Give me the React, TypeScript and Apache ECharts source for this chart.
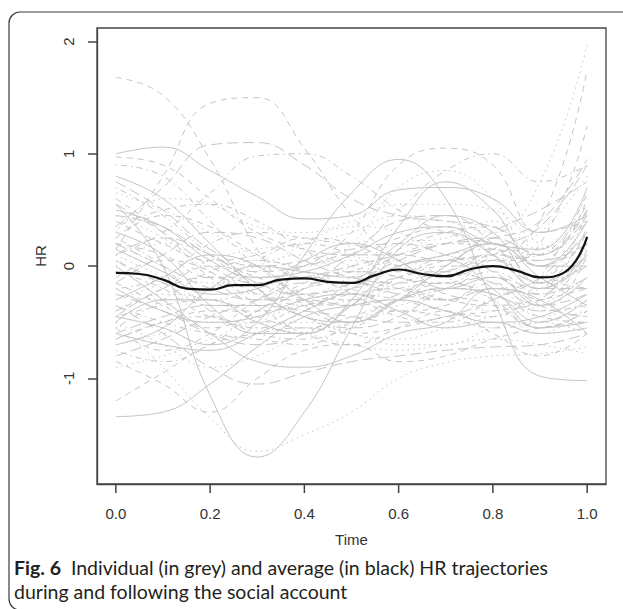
import React, { useEffect, useRef } from "react";
import * as echarts from "echarts";

// Time grid for the individual trajectories
const timeGrid = [0, 0.1, 0.2, 0.3, 0.4, 0.5, 0.6, 0.7, 0.8, 0.9, 1.0];
// Time grid for the average trajectory
const meanTime = [0, 0.05, 0.1, 0.15, 0.2, 0.25, 0.3, 0.35, 0.4, 0.45, 0.5, 0.55, 0.6, 0.65, 0.7, 0.75, 0.8, 0.85, 0.9, 0.95, 1.0];
const meanHR = [-0.06, -0.07, -0.12, -0.2, -0.21, -0.17, -0.17, -0.12, -0.11, -0.14, -0.15, -0.08, -0.03, -0.07, -0.09, -0.03, 0.0, -0.04, -0.1, -0.06, 0.26];

const xTicks = [0, 0.2, 0.4, 0.6, 0.8, 1.0];
const yTicks = [-1, 0, 1, 2];
const X_MIN = -0.04;
const X_MAX = 1.04;
const Y_MIN = -1.94;
const Y_MAX = 2.12;

const solidHR = [
  [1.0, 1.06, 0.85, 0.62, 0.42, 0.45, 0.68, 0.7, 0.6, 0.3, 0.45],
  [0.55, 0.0, -1.15, -1.7, -1.3, -0.55, 0.15, 0.3, 0.1, -0.2, 0.1],
  [-1.34, -1.3, -1.05, -0.72, -0.45, -0.35, -0.3, -0.4, -0.5, -0.45, -0.25],
  [-0.45, -0.55, -0.7, -0.5, 0.1, 0.65, 0.95, 0.6, -0.3, -0.98, -1.02],
  [0.8, 0.6, 0.2, -0.2, -0.45, -0.5, -0.3, -0.2, -0.25, -0.5, -0.3],
  [-0.6, -0.7, -0.75, -0.6, -0.4, -0.2, 0.0, 0.1, 0.2, 0.0, 0.4],
  [0.3, 0.1, -0.35, -0.6, -0.6, -0.3, 0.35, 0.75, 0.5, 0.0, 0.0],
  [-0.2, -0.4, -0.5, -0.45, -0.3, -0.25, -0.4, -0.55, -0.5, -0.6, -0.55],
  [0.5, 0.35, 0.05, -0.1, -0.05, 0.1, 0.3, 0.35, 0.2, 0.15, 0.7],
  [-0.7, -0.55, -0.2, 0.0, -0.05, -0.1, 0.2, 0.45, 0.3, -0.15, 0.1],
  [0.0, -0.3, -0.6, -0.85, -0.9, -0.8, -0.6, -0.5, -0.2, -0.3, -0.6],
  [-0.3, -0.1, 0.1, 0.0, -0.3, -0.5, -0.3, 0.0, 0.2, -0.1, -0.35],
  [0.15, -0.05, -0.25, -0.2, 0.05, 0.2, 0.05, -0.2, -0.1, -0.35, -0.1],
  [-0.5, -0.3, -0.3, -0.5, -0.6, -0.35, 0.0, 0.05, -0.2, -0.55, -0.5],
];

const dashedHR = [
  [1.68, 1.52, 0.95, 0.15, -0.35, -0.5, -0.3, -0.15, -0.25, -0.4, 0.1],
  [0.15, 0.8, 1.45, 1.5, 1.05, 0.45, 0.05, -0.1, 0.0, -0.15, 0.35],
  [0.97, 0.9, 0.6, 0.3, 0.15, 0.1, 0.25, 0.35, 0.1, -0.1, 0.3],
  [-1.2, -0.95, -0.7, -0.6, -0.55, -0.6, -0.55, -0.45, -0.4, -0.3, 0.2],
  [-0.85, -1.05, -1.3, -1.0, -0.75, -0.7, -0.85, -0.8, -0.65, -0.55, -0.5],
  [0.2, 0.1, -0.1, -0.1, 0.0, 0.3, 0.9, 1.05, 0.9, 0.3, 0.4],
  [-0.4, -0.2, 0.0, -0.1, -0.3, -0.35, -0.1, 0.05, 0.1, 0.4, 1.75],
  [0.6, 0.3, -0.1, -0.3, -0.25, -0.2, -0.1, 0.0, 0.0, 0.2, 1.25],
  [-0.65, -0.5, -0.4, -0.4, -0.35, -0.25, -0.2, -0.3, -0.35, -0.3, -0.2],
  [0.4, 0.2, 0.05, 0.1, 0.25, 0.2, 0.0, -0.1, 0.05, 0.05, 0.6],
  [-0.1, 0.05, -0.05, -0.35, -0.6, -0.7, -0.55, -0.4, -0.6, -0.8, -0.6],
  [-0.55, -0.75, -0.6, -0.3, -0.1, -0.2, -0.4, -0.35, -0.1, -0.3, 0.15],
  [0.25, 0.45, 0.35, 0.1, -0.1, -0.05, 0.15, 0.3, 0.35, 0.0, 0.2],
  [-0.15, -0.35, -0.55, -0.4, -0.15, -0.05, -0.1, -0.25, -0.35, -0.55, -0.4],
];

const dottedHR = [
  [-0.5, -0.9, -1.35, -1.65, -1.5, -1.3, -1.0, -0.86, -0.8, -0.78, -0.72],
  [-0.3, -0.15, 0.05, 0.15, 0.2, 0.3, 0.45, 0.4, 0.3, 0.75, 1.97],
  [0.3, 0.6, 0.55, 0.35, 0.3, 0.4, 0.55, 0.55, 0.5, 0.2, 0.1],
  [-0.7, -0.6, -0.5, -0.55, -0.6, -0.7, -0.75, -0.7, -0.65, -0.7, -0.78],
  [0.1, -0.1, -0.3, -0.2, 0.0, 0.05, 0.0, -0.1, 0.1, 0.3, 0.8],
  [-0.25, -0.3, -0.2, 0.0, 0.1, 0.0, -0.2, -0.3, -0.2, -0.45, -0.3],
  [0.65, 0.5, 0.3, 0.1, 0.0, 0.2, 0.7, 0.85, 0.6, 0.0, 0.3],
  [-0.5, -0.7, -0.9, -0.8, -0.6, -0.5, -0.35, -0.3, -0.4, -0.2, 0.0],
  [0.0, 0.2, 0.1, -0.2, -0.45, -0.6, -0.65, -0.55, -0.45, -0.35, -0.1],
  [-0.9, -0.8, -0.65, -0.5, -0.5, -0.6, -0.7, -0.7, -0.55, -0.5, -0.6],
  [0.45, 0.25, -0.05, -0.25, -0.2, 0.0, 0.2, 0.25, 0.4, 0.15, 0.5],
  [-0.4, -0.25, -0.3, -0.45, -0.3, -0.1, 0.05, -0.1, -0.3, -0.6, -0.35],
  [0.2, 0.0, -0.15, -0.05, 0.2, 0.35, 0.3, 0.1, 0.05, 0.15, 0.45],
];

const dotDashHR = [
  [0.1, 0.3, 0.65, 0.98, 1.0, 0.8, 0.5, 0.3, 0.2, 0.1, 0.4],
  [-0.2, -0.1, 0.2, 0.3, 0.25, 0.2, 0.5, 0.85, 1.0, 0.75, 0.9],
  [0.7, 0.45, 0.1, -0.2, -0.35, -0.3, -0.15, -0.05, 0.05, -0.15, 0.0],
  [-0.45, -0.35, -0.3, -0.45, -0.55, -0.45, -0.3, -0.2, -0.05, -0.25, 0.2],
  [0.25, 0.0, -0.4, -0.55, -0.4, -0.15, 0.1, 0.2, 0.15, -0.1, 0.5],
  [-0.75, -0.85, -0.7, -0.4, -0.2, -0.15, -0.2, -0.3, -0.15, -0.4, -0.35],
  [0.9, 0.8, 0.4, 0.0, -0.25, -0.3, -0.2, -0.15, -0.3, -0.55, -0.4],
  [-0.05, -0.2, -0.45, -0.5, -0.35, -0.25, -0.3, -0.4, -0.45, -0.1, 0.65],
  [0.35, 0.5, 0.55, 0.4, 0.15, -0.05, -0.05, 0.1, 0.15, 0.0, 0.3],
  [-0.55, -0.3, -0.05, 0.05, -0.05, -0.25, -0.45, -0.5, -0.3, -0.15, -0.2],
  [-0.35, -0.5, -0.6, -0.65, -0.7, -0.5, -0.3, -0.2, -0.25, -0.45, -0.5],
  [0.05, -0.15, -0.2, 0.05, 0.2, 0.1, -0.1, -0.15, 0.05, 0.1, 0.55],
  [-0.65, -0.5, -0.45, -0.6, -0.65, -0.55, -0.4, -0.45, -0.55, -0.5, -0.4],
];

const longDashHR = [
  [0.35, 0.7, 1.08, 1.1, 0.9, 0.6, 0.45, 0.4, 0.35, 0.1, 0.5],
  [-0.35, -0.6, -0.9, -1.05, -0.95, -0.85, -0.8, -0.75, -0.72, -0.7, -0.6],
  [0.55, 0.3, 0.0, -0.15, -0.1, 0.0, 0.1, 0.2, 0.25, 0.4, 0.95],
  [-0.8, -0.65, -0.45, -0.3, -0.15, -0.15, -0.25, -0.3, -0.2, -0.25, -0.1],
  [0.05, -0.15, -0.35, -0.35, -0.2, 0.1, 0.4, 0.45, 0.2, -0.2, -0.2],
  [-0.15, 0.1, 0.3, 0.25, 0.05, -0.1, -0.15, -0.05, 0.15, 0.35, 0.9],
  [0.75, 0.5, 0.15, 0.0, 0.05, 0.15, 0.2, 0.1, -0.05, -0.35, -0.45],
  [-0.6, -0.45, -0.35, -0.35, -0.4, -0.45, -0.5, -0.45, -0.3, -0.1, 0.3],
  [0.2, 0.0, -0.2, -0.3, -0.3, -0.35, -0.25, 0.0, 0.3, 0.5, 0.75],
  [-0.25, -0.4, -0.6, -0.7, -0.6, -0.35, -0.1, -0.05, -0.15, -0.35, -0.25],
  [0.45, 0.35, 0.1, -0.05, 0.0, 0.1, 0.1, 0.05, 0.1, 0.05, 0.2],
  [0.1, 0.25, 0.1, -0.15, -0.25, -0.15, 0.05, 0.2, 0.25, 0.1, 0.45],
  [-0.45, -0.2, -0.1, -0.25, -0.45, -0.55, -0.45, -0.2, -0.1, -0.2, 0.05],
];

const captionBold = "Fig. 6";
const captionLine1 = "Individual (in grey) and average (in black) HR trajectories";
const captionLine2 = "during and following the social account";

const GREY = "#c4c4c4";
const AXIS_COLOR = "#444";
const AXIS_FONT = "'Liberation Sans', Arial, sans-serif";
const CAPTION_FONT = "Lato, sans-serif";

export default function App() {
  const ref = useRef<HTMLDivElement>(null);

  useEffect(() => {
    if (!ref.current) return;
    const chart = echarts.init(ref.current, null, { renderer: "svg" });

    const groups: { curves: number[][]; dash: any }[] = [
      { curves: solidHR, dash: "solid" },
      { curves: dashedHR, dash: [6, 5] },
      { curves: dottedHR, dash: [1.5, 4] },
      { curves: dotDashHR, dash: [1.5, 4, 6, 4] },
      { curves: longDashHR, dash: [11, 5] },
    ];

    const series: any[] = [];
    groups.forEach((g) => {
      g.curves.forEach((c) => {
        series.push({
          type: "line",
          data: timeGrid.map((t, i) => [t, c[i]]),
          smooth: 0.45,
          symbol: "none",
          silent: true,
          lineStyle: { color: GREY, width: 1, type: g.dash },
          z: 2,
        });
      });
    });
    series.push({
      type: "line",
      data: meanTime.map((t, i) => [t, meanHR[i]]),
      smooth: 0.5,
      symbol: "none",
      silent: true,
      lineStyle: { color: "#111", width: 2.2, type: "solid" },
      z: 10,
    });
    // Outward tick marks of the Time axis, placed through the axis scale
    series.push({
      type: "custom",
      coordinateSystem: "cartesian2d",
      clip: false,
      silent: true,
      data: xTicks.map((v) => [v, Y_MIN]),
      renderItem: (_params: any, api: any) => {
        const p = api.coord([api.value(0), api.value(1)]);
        return {
          type: "line",
          shape: { x1: p[0], y1: p[1], x2: p[0], y2: p[1] + 9 },
          style: { stroke: AXIS_COLOR, lineWidth: 1.5 },
        };
      },
      z: 12,
    });

    chart.setOption({
      animation: false,
      backgroundColor: "#fff",
      grid: {
        left: 97,
        top: 28,
        width: 509,
        height: 456,
        show: true,
        borderColor: AXIS_COLOR,
        borderWidth: 1.3,
        backgroundColor: "transparent",
        containLabel: false,
      },
      xAxis: {
        type: "value",
        position: "bottom",
        min: X_MIN,
        max: X_MAX,
        axisLine: { show: true, onZero: false, lineStyle: { color: AXIS_COLOR, width: 1.3 } },
        splitLine: { show: false },
        axisTick: { show: false },
        axisLabel: {
          customValues: xTicks,
          formatter: (v: number) => v.toFixed(1),
          margin: 22,
          color: "#333",
          fontSize: 15,
          fontFamily: AXIS_FONT,
        },
        name: "Time",
        nameLocation: "middle",
        nameGap: 48,
        nameTextStyle: { color: "#333", fontSize: 15, fontFamily: AXIS_FONT },
      },
      yAxis: {
        type: "value",
        position: "left",
        min: Y_MIN,
        max: Y_MAX,
        axisLine: { show: true, onZero: false, lineStyle: { color: AXIS_COLOR, width: 1.3 } },
        splitLine: { show: false },
        axisTick: {
          show: true,
          inside: false,
          length: 9,
          customValues: yTicks,
          lineStyle: { color: AXIS_COLOR, width: 1.5 },
        },
        axisLabel: {
          customValues: yTicks,
          formatter: (v: number) => String(v),
          rotate: 90,
          margin: 21,
          color: "#333",
          fontSize: 15,
          fontFamily: AXIS_FONT,
        },
        name: "HR",
        nameLocation: "middle",
        nameGap: 49,
        nameTextStyle: { color: "#333", fontSize: 15, fontFamily: AXIS_FONT },
      },
      graphic: [
        {
          type: "rect",
          silent: true,
          shape: { x: 9, y: 12, width: 700, height: 598, r: 11 },
          style: { fill: "none", stroke: "#3a3a3a", lineWidth: 1.2 },
          z: 0,
        },
        {
          type: "text",
          silent: true,
          x: 14,
          y: 567,
          style: {
            text: "{b|" + captionBold + "}  " + captionLine1,
            rich: { b: { fontWeight: "bold", fontSize: 19.5, fontFamily: CAPTION_FONT, fill: "#231f20" } },
            fontSize: 19.5,
            fontFamily: CAPTION_FONT,
            fill: "#231f20",
            textVerticalAlign: "middle",
          },
        },
        {
          type: "text",
          silent: true,
          x: 14,
          y: 591,
          style: {
            text: captionLine2,
            fontSize: 19.5,
            fontFamily: CAPTION_FONT,
            fill: "#231f20",
            textVerticalAlign: "middle",
          },
        },
      ],
      series,
    });

    return () => chart.dispose();
  }, []);

  return (
    <div
      ref={ref}
      style={{ position: "fixed", left: 0, top: 0, width: 623, height: 609 }}
    />
  );
}
